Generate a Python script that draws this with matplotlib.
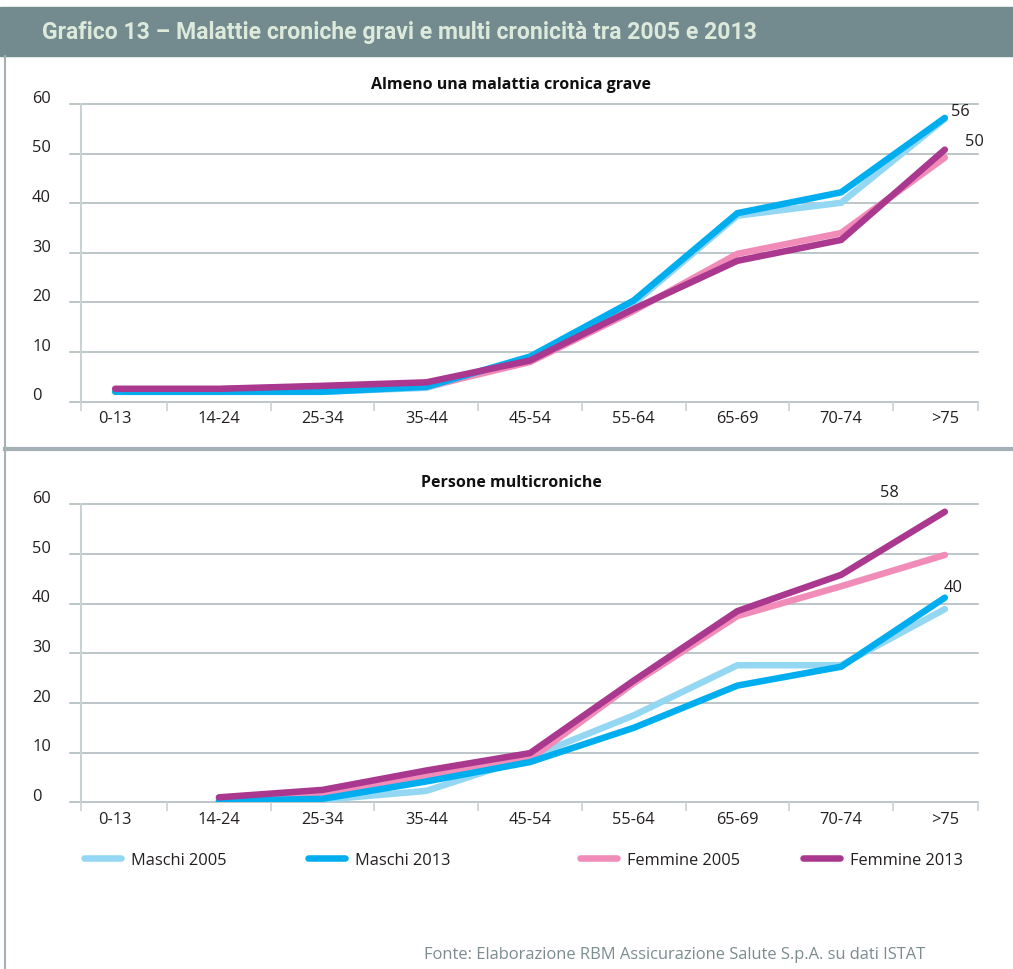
import numpy as np
import matplotlib
matplotlib.use("Agg")
import matplotlib.pyplot as plt
from matplotlib.lines import Line2D
from matplotlib.patches import Rectangle
import matplotlib.transforms as mtransforms

plt.rcParams['font.family'] = ['Open Sans', 'DejaVu Sans']

# dati
classi = ["0-13", "14-24", "25-34", "35-44", "45-54", "55-64", "65-69", "70-74", ">75"]
serie = ["Maschi 2005", "Maschi 2013", "Femmine 2005", "Femmine 2013"]
colori = ["#93D7F3", "#00AEEF", "#F18CB8", "#AA388F"]

# Almeno una malattia cronica grave
grave_m05 = [2.0, 2.0, 2.0, 2.8, 8.6, 19.8, 37.5, 40.1, 57.0]
grave_m13 = [2.0, 2.0, 2.0, 3.0, 9.1, 20.4, 38.0, 42.2, 57.2]
grave_f05 = [2.5, 2.5, 3.0, 3.0, 8.0, 18.3, 29.8, 34.0, 49.2]
grave_f13 = [2.6, 2.6, 3.2, 3.9, 8.3, 18.7, 28.4, 32.6, 50.8]

# Persone multicroniche (0-13 non disponibile)
multi_m05 = [np.nan, 0.3, 0.5, 2.3, 9.1, 17.5, 27.6, 27.6, 38.9]
multi_m13 = [np.nan, 0.3, 0.7, 4.2, 8.1, 15.0, 23.5, 27.3, 41.2]
multi_f05 = [np.nan, 0.7, 1.7, 5.2, 8.7, 24.0, 37.5, 43.5, 49.8]
multi_f13 = [np.nan, 1.0, 2.5, 6.4, 9.9, 24.5, 38.5, 45.8, 58.5]

W, H, DPI = 1013, 970, 100
fig = plt.figure(figsize=(W / DPI, H / DPI), dpi=DPI)

GRID = "#A9B6B9"
AXL = "#C9D1D4"
BORDO = "#A4B1B4"
TXT = "#231F20"

# intestazione
fig.patches.append(Rectangle((0, 1 - 57 / H), 1, 49 / H, transform=fig.transFigure,
                             color="#738B8F", zorder=0))
fig.text(42 / W, 1 - 33 / H, "Grafico 13 \u2013 Malattie croniche gravi e multi cronicità tra 2005 e 2013",
         color="#DDEADB", fontsize=16.6, fontweight="bold", va="center", ha="left",
         family=["Roboto", "DejaVu Sans"])
# bordo sinistro e separatore
fig.add_artist(Line2D([4.5 / W, 4.5 / W], [0, 1 - 57 / H], transform=fig.transFigure,
                      color=BORDO, lw=1.5))
fig.add_artist(Line2D([4.5 / W, 1], [1 - 450 / H, 1 - 450 / H], transform=fig.transFigure,
                      color=BORDO, lw=3))

ax_left = 81 / W
ax_w = 897 / W
ax1 = fig.add_axes([ax_left, 1 - 402.7 / H, ax_w, 297.7 / H])
ax2 = fig.add_axes([ax_left, 1 - 803.3 / H, ax_w, 298.0 / H])

x = np.arange(len(classi))


def pannello(ax, dati, titolo, y_titolo):
    for v in range(0, 70, 10):
        ax.axhline(v, xmin=-0.0125, xmax=1, color=GRID, lw=1.1, clip_on=False, zorder=1)
        t = mtransforms.blended_transform_factory(ax.transAxes, ax.transData)
        off = mtransforms.ScaledTranslation(0, 4.5 / 72, fig.dpi_scale_trans)
        ax.text(-0.0545, v, str(v), transform=t + off, ha="left", va="center",
                fontsize=11.8, color=TXT)
    ordine = [0, 2, 1, 3]
    for i in ordine:
        ax.plot(x, dati[i], color=colori[i], lw=4.7, solid_capstyle="round",
                solid_joinstyle="miter", zorder=3)
    ax.set_xlim(-0.33, 8.32)
    ax.set_ylim(0, 60)
    for s in ["top", "right", "bottom"]:
        ax.spines[s].set_visible(False)
    ax.spines["left"].set_color(AXL)
    ax.spines["left"].set_linewidth(1.5)
    ax.set_yticks([])
    ax.set_xticks(x)
    ax.set_xticklabels(classi, fontsize=11.8, color=TXT)
    ax.tick_params(axis="x", which="major", length=0, pad=6)
    ax.set_xticks(list(np.arange(0.5, 8, 1)) + [-0.33, 8.32], minor=True)
    ax.tick_params(axis="x", which="minor", length=6.5, width=1.2, color=AXL)
    ax.patch.set_visible(False)
    fig.text(511 / W, 1 - y_titolo / H, titolo, ha="center", va="center",
             fontsize=11.5, fontweight="bold", color="#111111")


pannello(ax1, [grave_m05, grave_m13, grave_f05, grave_f13],
         "Almeno una malattia cronica grave", 85)
pannello(ax2, [multi_m05, multi_m13, multi_f05, multi_f13],
         "Persone multicroniche", 483)

# etichette valori finali
ax1.annotate("56", (8, grave_m13[-1]), xytext=(11, 5), textcoords="offset points",
             ha="center", va="center", fontsize=11.8, color=TXT)
ax1.annotate("50", (8, grave_f13[-1]), xytext=(21, 6), textcoords="offset points",
             ha="center", va="center", fontsize=11.8, color=TXT)
ax2.annotate("58", (8, multi_f13[-1]), xytext=(-40, 14), textcoords="offset points",
             ha="center", va="center", fontsize=11.8, color=TXT)
ax2.annotate("40", (8, multi_m13[-1]), xytext=(6, 8), textcoords="offset points",
             ha="center", va="center", fontsize=11.8, color=TXT)

# legenda
pos_leg = [84, 308, 580, 803]
for nome, col, px in zip(serie, colori, pos_leg):
    h = Line2D([], [], color=col, lw=4.7, solid_capstyle="round")
    fig.legend(handles=[h], labels=[nome], loc="center left",
               bbox_to_anchor=(px / W, 1 - 861 / H), frameon=False,
               fontsize=11.8, handlelength=2.25, handletextpad=0.62,
               borderpad=0, borderaxespad=0, labelcolor=TXT)

fig.text(925 / W, 1 - 955 / H,
         "Fonte: Elaborazione RBM Assicurazione Salute S.p.A. su dati ISTAT",
         ha="right", va="center", fontsize=11.9, color="#7B8C8F")

fig.savefig("out.png", dpi=DPI)
